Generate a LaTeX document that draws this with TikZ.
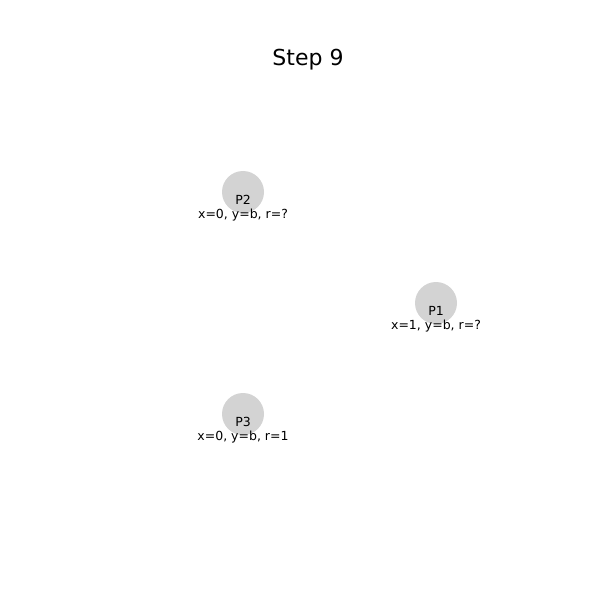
\documentclass[tikz,border=0pt]{standalone}
\usepackage{fontspec}
\setmainfont{DejaVu Sans}
\definecolor{nodegray}{HTML}{D3D3D3}
\begin{document}
\begin{tikzpicture}[x=1bp,y=-1bp,
  pnode/.style={circle,fill=nodegray,minimum size=42bp,inner sep=0pt},
  ptext/.style={anchor=base,inner sep=0pt,font=\fontsize{12.5bp}{14bp}\selectfont},
  ttext/.style={anchor=base,inner sep=0pt,font=\fontsize{22bp}{26bp}\selectfont}]
\useasboundingbox[fill=white] (0,0) rectangle (600,600);
\node[ttext] (title) at (308,65.5) {Step 9};
\node[pnode] (p2) at (243,192) {};
\node[pnode] (p1) at (436,303) {};
\node[pnode] (p3) at (243,414) {};
\node[ptext] (p2n) at (243,204) {P2};
\node[ptext] (p2l) at (243,218.5) {x=0, y=b, r=?};
\node[ptext] (p1n) at (436,315) {P1};
\node[ptext] (p1l) at (436,329.5) {x=1, y=b, r=?};
\node[ptext] (p3n) at (243,426) {P3};
\node[ptext] (p3l) at (243,440.5) {x=0, y=b, r=1};
\end{tikzpicture}
\end{document}
